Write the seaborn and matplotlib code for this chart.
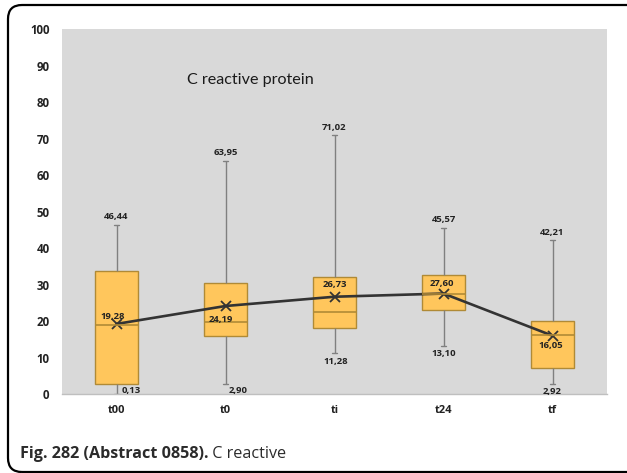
import numpy as np
import pandas as pd
import seaborn as sns
import matplotlib.pyplot as plt
from matplotlib.patches import FancyBboxPatch

# -------------------------
# DATA
# -------------------------
times = ["t00", "t0", "ti", "t24", "tf"]
whisk_lo = [0.13, 2.90, 11.28, 13.10, 2.92]
q1 = [2.7, 16.1, 18.2, 23.2, 7.3]
median = [18.9, 19.9, 22.6, 27.5, 16.2]
q3 = [33.9, 30.6, 32.0, 32.7, 20.2]
whisk_hi = [46.44, 63.95, 71.02, 45.57, 42.21]
means = [19.28, 24.19, 26.73, 27.60, 16.05]

# five points per group -> quartiles land exactly on q1/median/q3
rows = []
for i, t in enumerate(times):
    for v in [whisk_lo[i], q1[i], median[i], q3[i], whisk_hi[i]]:
        rows.append({"time": t, "crp": v})
df = pd.DataFrame(rows)

# label offsets in pixels (dx, dy)
mean_off = [(-4, 7), (-5, -13), (0, 12), (-2, 10), (-2, -10)]
lo_off = [(15, 3), (13, -7), (1, -4), (0, -7), (0, -8)]

sns.set_style("white")
plt.rcParams["font.family"] = ["Open Sans", "DejaVu Sans"]

fig = plt.figure(figsize=(6.27, 4.73), dpi=100)
ax = fig.add_axes([62 / 627, 78.7 / 473, 545 / 627, 365 / 473])
ax.set_facecolor("#d9d9d9")

edge = "#b08a36"
sns.boxplot(data=df, x="time", y="crp", order=times, whis=(0, 100), width=0.4,
            color="#ffc65c", saturation=1, linewidth=1, ax=ax,
            boxprops=dict(edgecolor=edge),
            medianprops=dict(color=edge, linewidth=1.2),
            whiskerprops=dict(color="#808080", linewidth=1),
            capprops=dict(color="#808080", linewidth=1),
            capwidths=0.05)

sns.pointplot(x=times, y=means, order=times, color="#333333", markers="x",
              markersize=7, linewidth=1.9, errorbar=None, ax=ax)
for ln in ax.lines[-1:]:
    ln.set_markeredgewidth(1.3)

def fmt(v):
    return f"{v:.2f}".replace(".", ",")

lab = dict(fontsize=6.8, fontweight="bold", color="#222222", ha="center", va="center",
           textcoords="offset pixels")
for i in range(len(times)):
    ax.annotate(fmt(whisk_hi[i]), (i, whisk_hi[i]), xytext=(0, 8), **lab)
    ax.annotate(fmt(means[i]), (i, means[i]), xytext=mean_off[i], **lab)
    lbl = dict(lab)
    if i == 2:
        lbl["va"] = "top"
    ax.annotate(fmt(whisk_lo[i]), (i, whisk_lo[i]), xytext=lo_off[i], **lbl)

ax.text(0.345, 0.861, "C reactive protein", transform=ax.transAxes,
        fontsize=11.6, ha="center", va="center", color="#1a1a1a",
        family=["Lato", "DejaVu Sans"])

ax.set_ylim(0, 100)
ax.set_xlim(-0.5, 4.5)
ax.set_yticks(range(0, 101, 10))
ax.set_xlabel("")
ax.set_ylabel("")
ax.set_xticks(np.arange(-0.5, 5, 1), minor=True)
ax.tick_params(axis="x", which="major", length=0, pad=8, labelsize=8)
ax.tick_params(axis="x", which="minor", length=4, color="#bfbfbf", width=1)
ax.tick_params(axis="y", length=4, color="#a6a6a6", width=1, pad=5, labelsize=8.3)
for lbl_t in ax.get_xticklabels() + ax.get_yticklabels():
    lbl_t.set_fontweight("bold")
    lbl_t.set_color("#222222")
for s in ["top", "right", "left"]:
    ax.spines[s].set_visible(False)
ax.spines["bottom"].set_color("#bfbfbf")
ax.spines["bottom"].set_linewidth(1)

# rounded frame around the figure
frame = FancyBboxPatch((8, 1), 700, 467, boxstyle="round,pad=0,rounding_size=14",
                       transform=None, fill=False, edgecolor="black", linewidth=1.6)
fig.add_artist(frame)

# caption
cap = fig.text(20 / 627, 1 - 458 / 473, "Fig. 282 (Abstract 0858).", fontsize=11.6,
               fontweight="bold", color="#2b2b2b", va="baseline")
ax.annotate(" C reactive", xy=(1, 0), xycoords=cap, fontsize=11.6, color="#2b2b2b",
            va="bottom", annotation_clip=False)

fig.savefig("out.png", dpi=100)
